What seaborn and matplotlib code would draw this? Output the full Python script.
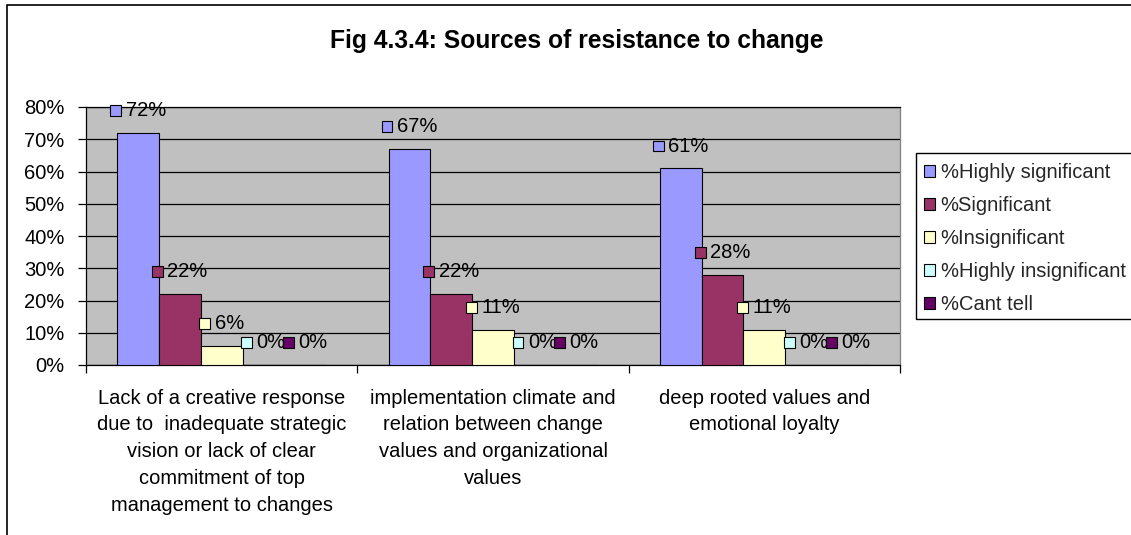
import matplotlib
matplotlib.use("Agg")
import matplotlib.pyplot as plt
from matplotlib.patches import Rectangle, Patch
from matplotlib.offsetbox import AnnotationBbox, HPacker, DrawingArea, TextArea
from matplotlib.ticker import FixedLocator, FuncFormatter
import seaborn as sns
import pandas as pd

# Survey results: share of respondents per rating, for each source of resistance
sources = [
    "Lack of a creative response\ndue to  inadequate strategic\nvision or lack of clear\ncommitment of top\nmanagement to changes",
    "implementation climate and\nrelation between change\nvalues and organizational\nvalues",
    "deep rooted values and\nemotional loyalty",
]
ratings = ["%Highly significant", "%Significant", "%Insignificant",
           "%Highly insignificant", "%Cant tell"]
highly_significant = [72, 67, 61]
significant = [22, 22, 28]
insignificant = [6, 11, 11]
highly_insignificant = [0, 0, 0]
cant_tell = [0, 0, 0]
series = [highly_significant, significant, insignificant,
          highly_insignificant, cant_tell]
colors = ["#9999FF", "#993366", "#FFFFCC", "#CCFFFF", "#660066"]

rows = []
for rating, values in zip(ratings, series):
    for src, v in zip(sources, values):
        rows.append({"source": src, "rating": rating, "pct": v})
df = pd.DataFrame(rows)

sns.set_theme(style="white")
plt.rcParams["font.family"] = ["Liberation Sans", "DejaVu Sans"]
FS = 14.5

W, H = 1131, 535
fig = plt.figure(figsize=(W / 100, H / 100), dpi=100)

# outer chart frame (extends past the right and bottom edges)
fig.patches.append(Rectangle((7 / W, -0.05), 1.2, 1 - 5 / H + 0.05,
                             transform=fig.transFigure, fill=False,
                             edgecolor="black", linewidth=1.2, zorder=0))

ax = fig.add_axes([86 / W, 1 - 365 / H, 814 / W, 258 / H])
ax.set_facecolor("#C0C0C0")

sns.barplot(data=df, x="source", y="pct", hue="rating", hue_order=ratings,
            palette=colors, width=0.77, edgecolor="black", linewidth=0.8,
            saturation=1, legend=False, ax=ax, zorder=3)

ax.set_ylim(0, 80)
ax.set_xlim(-0.5, 2.5)
ax.set_yticks(range(0, 81, 10))
ax.yaxis.set_major_formatter(FuncFormatter(lambda v, p: f"{v:.0f}%"))
ax.yaxis.grid(True, color="black", linewidth=0.9, zorder=1)
ax.set_axisbelow(True)
ax.set_xlabel("")
ax.set_ylabel("")

ax.tick_params(axis="y", which="major", direction="out", length=6, width=0.9,
               color="black", pad=9.5, labelsize=FS, labelcolor="black", left=True)
ax.tick_params(axis="x", which="major", length=0, pad=17, labelsize=FS,
               labelcolor="black")
ax.xaxis.set_minor_locator(FixedLocator([-0.5, 0.5, 1.5, 2.5]))
ax.tick_params(axis="x", which="minor", direction="out", length=6, width=0.9,
               color="black", bottom=True)
for lbl in ax.get_xticklabels():
    lbl.set_multialignment("center")
    lbl.set_linespacing(1.52)

for side in ["left", "bottom", "top"]:
    ax.spines[side].set_color("black")
    ax.spines[side].set_linewidth(0.9)
ax.spines["right"].set_color("#808080")
ax.spines["right"].set_linewidth(0.9)

# data labels with a legend key beside the value
KEY = 7.8
for container, color in zip(ax.containers, colors):
    for bar in container:
        h = bar.get_height()
        xc = bar.get_x() + bar.get_width() / 2
        da = DrawingArea(KEY, KEY, 0, 0)
        da.add_artist(Rectangle((0, 0), KEY, KEY, facecolor=color,
                                edgecolor="black", linewidth=0.8))
        ta = TextArea(f"{h:.0f}%", textprops=dict(fontsize=FS, color="black"))
        box = HPacker(children=[da, ta], sep=3.2, align="center", pad=0)
        ab = AnnotationBbox(box, (xc, h), xybox=(0, 16), xycoords="data",
                            boxcoords="offset points", frameon=False,
                            box_alignment=(0.5, 0.5), pad=0, zorder=6)
        ax.add_artist(ab)

# legend, with its frame running off the right edge
handles = [Patch(facecolor=c, edgecolor="black", linewidth=0.8) for c in colors]
leg = fig.legend(handles, ratings, loc="upper left",
                 bbox_to_anchor=(924 / W, 1 - 163 / H), fontsize=FS,
                 frameon=False, handlelength=0.55, handleheight=0.55,
                 handletextpad=0.28, labelspacing=0.70, borderpad=0,
                 borderaxespad=0)
fig.patches.append(Rectangle((916 / W, 1 - 319 / H), 240 / W, 166 / H,
                             transform=fig.transFigure, fill=False,
                             edgecolor="black", linewidth=1.0, zorder=1))

fig.text(577 / W, 1 - 48 / H, "Fig 4.3.4: Sources of resistance to change",
         ha="center", va="baseline", fontsize=17.7, fontweight="bold",
         color="black")

fig.savefig("out.png", dpi=100, facecolor="white")
